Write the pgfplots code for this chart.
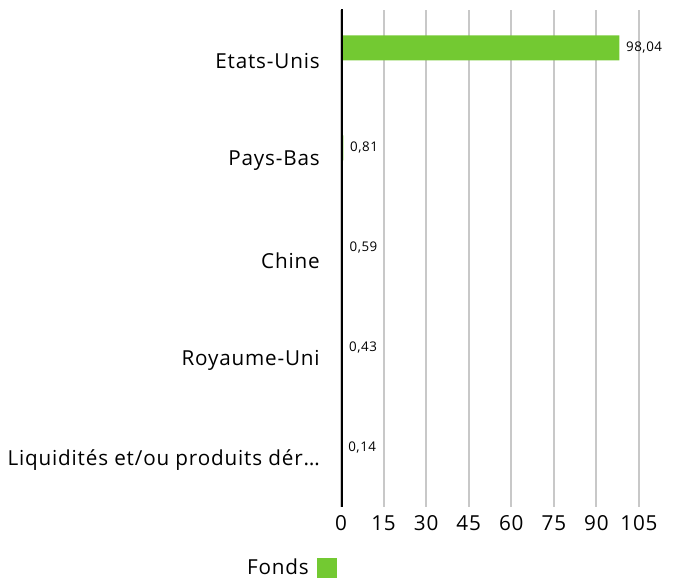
\documentclass[border=0pt]{standalone}
\usepackage{fontspec}
\setmainfont[LetterSpace=4]{Open Sans}
\usepackage{pgfplots}
\pgfplotsset{compat=1.18}
\definecolor{fondsgreen}{RGB}{115,201,50}
\definecolor{gridgray}{RGB}{200,200,200}
\begin{document}
\begin{tikzpicture}
  \path[use as bounding box] (0,0) rectangle (508.5pt,435.75pt);
  \begin{axis}[
      at={(255.75pt,55.5pt)}, anchor=south west,
      scale only axis,
      width=223.5pt, height=372.75pt,
      xbar, bar width=18.75pt,
      xmin=0, xmax=105,
      ymin=-0.59, ymax=4.38,
      xtick={0,15,...,105},
      ytick={0,1,2,3,4},
      yticklabels={Liquidités et/ou produits dér\ldots, Royaume-Uni, Chine, Pays-Bas, Etats-Unis},
      axis line style={draw=none},
      major tick length=0pt,
      xmajorgrids,
      grid style={gridgray, line width=1.5pt},
      /pgf/number format/assume math mode=true,
      xticklabel style={font=\fontsize{15.5}{18}\selectfont, inner sep=0pt, anchor=north, yshift=-6pt},
      yticklabel style={font=\fontsize{15.5}{18}\selectfont, inner sep=0pt, anchor=east, xshift=-15.75pt, yshift=-9.4pt},
      nodes near coords,
      nodes near coords style={font=\fontsize{10}{12}\selectfont, anchor=west, inner sep=0pt, xshift=5pt,
        /pgf/number format/.cd, fixed, fixed zerofill, precision=2, use comma, assume math mode=true},
      legend style={at={(-0.169,-0.1227)}, anchor=center, draw=none, fill=none,
        font=\fontsize{15.5}{18}\selectfont, legend cell align=left, column sep=4pt},
      legend plot pos=right,
      legend image code/.code={\fill[fondsgreen] (0pt,-7.5pt) rectangle (15pt,7.5pt);},
    ]
    \addplot[fill=fondsgreen, draw=none] coordinates {
      (0.14,0)
      (0.43,1)
      (0.59,2)
      (0.81,3)
      (98.04,4)
    };
    \legend{Fonds}
    \draw[black, line width=3.2pt] (axis cs:0,4.40) -- (axis cs:0,-0.62);
  \end{axis}
\end{tikzpicture}
\end{document}
